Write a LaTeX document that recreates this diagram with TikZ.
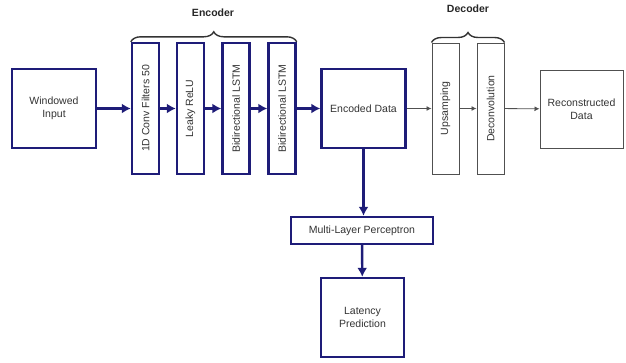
\documentclass[tikz,border=0pt]{standalone}
\usepackage{fontspec}
\setmainfont{Liberation Sans}
\usetikzlibrary{arrows.meta,decorations.pathreplacing}
\definecolor{navy}{RGB}{30,28,120}
\definecolor{lightgrey}{RGB}{80,80,80}
\begin{document}
\begin{tikzpicture}[x=1pt,y=-1pt,
  font=\fontsize{10.5}{12.5}\selectfont,
  encbox/.style={draw=navy,line width=2.4pt,inner sep=0pt,align=center,text=black!80},
  decbox/.style={draw=lightgrey,line width=1pt,inner sep=0pt,align=center,text=black!80},
  layer/.style={minimum width=27pt,minimum height=131pt},
  bigbox/.style={minimum width=84pt,minimum height=79pt},
  navyarrow/.style={draw=navy,line width=2.4pt,-{Latex[length=9pt,width=10pt]}},
  greyarrow/.style={draw=lightgrey,line width=0.8pt,-{Latex[length=5pt,width=5pt]}},
  groupbrace/.style={draw=black!80,line width=1.4pt,decorate,decoration={brace,amplitude=10pt}},
  grouplabel/.style={font=\fontsize{10.5}{12}\selectfont\bfseries,text=black!85}]
\useasboundingbox (0,0) rectangle (626,362);

% encoder path
\node[encbox,bigbox] (win) at (54,108.5) {Windowed\\Input};
\node[encbox,layer] (c1) at (145.5,108.5) {\rotatebox{90}{1D Conv Filters 50}};
\node[encbox,layer] (c2) at (190.5,108.5) {\rotatebox{90}{Leaky ReLU}};
\node[encbox,layer] (c3) at (236,108.5) {\rotatebox{90}{Bidirectional LSTM}};
\node[encbox,layer] (c4) at (282,108.5) {\rotatebox{90}{Bidirectional LSTM}};
\node[encbox,bigbox] (enc) at (363.5,108.5) {Encoded Data};

% decoder path
\node[decbox,layer] (up) at (445.5,108.5) {\rotatebox{90}{Upsamping}};
\node[decbox,layer] (dc) at (490.5,108.5) {\rotatebox{90}{Deconvolution}};
\node[decbox,bigbox,minimum width=83pt,minimum height=78pt] (rec) at (581.5,109) {Reconstructed\\Data};

% prediction head
\node[encbox,minimum width=142pt,minimum height=27pt] (mlp) at (362,230.5) {Multi-Layer Perceptron};
\node[encbox,bigbox,minimum width=83pt] (lat) at (362.5,317.5) {Latency\\Prediction};

% connectors
\draw[navyarrow] (win) -- (c1);
\draw[navyarrow] (c1) -- (c2);
\draw[navyarrow] (c2) -- (c3);
\draw[navyarrow] (c3) -- (c4);
\draw[navyarrow] (c4) -- (enc);
\draw[greyarrow] (enc) -- (up);
\draw[greyarrow] (up) -- (dc);
\draw[greyarrow] (dc) -- (rec);
\draw[navyarrow] (enc.south) -- (enc.south |- mlp.north);
\draw[navyarrow] (mlp) -- (lat);

% group braces
\coordinate (encL) at (c1.north west);
\coordinate (encR) at (c4.north east);
\coordinate (decL) at (up.north west);
\coordinate (decR) at (dc.north east);
\draw[groupbrace] (encL) -- (encR);
\draw[groupbrace] (decL) -- (decR);
\node[grouplabel] (enclabel) at (213,13) {Encoder};
\node[grouplabel] (declabel) at (468,9) {Decoder};
\end{tikzpicture}
\end{document}
